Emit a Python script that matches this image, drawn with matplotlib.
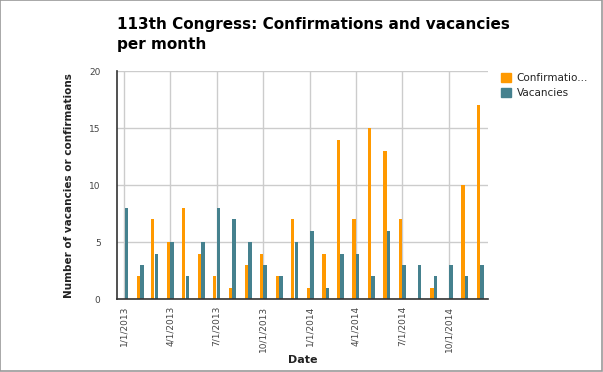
import datetime as dt
import matplotlib
matplotlib.use("Agg")
import matplotlib.pyplot as plt
import matplotlib.dates as mdates
from matplotlib.patches import Rectangle, Patch

# monthly data, 113th Congress
months = [dt.date(2013 + i // 12, i % 12 + 1, 1) for i in range(24)]
confirmations = [0, 2, 7, 5, 8, 4, 2, 1, 3, 4, 2, 7,
                 1, 4, 14, 7, 15, 13, 7, 0, 1, 0, 10, 17]
vacancies = [8, 3, 4, 5, 2, 5, 8, 7, 5, 3, 2, 5,
             6, 1, 4, 4, 2, 6, 3, 3, 2, 3, 2, 3]
tick_dates = [dt.date(2013, 1, 1), dt.date(2013, 4, 1), dt.date(2013, 7, 1),
              dt.date(2013, 10, 1), dt.date(2014, 1, 1), dt.date(2014, 4, 1),
              dt.date(2014, 7, 1), dt.date(2014, 10, 1)]

orange = "#ff9900"
teal = "#45818e"

fig = plt.figure(figsize=(6.03, 3.72), dpi=100)
ax = fig.add_axes([0.1945, 0.196, 0.6143, 0.6123])

x = mdates.date2num(months)
w = 6.5
ax.bar(x - 3.6, confirmations, width=w, color=orange, zorder=3)
ax.bar(x + 3.6, vacancies, width=w, color=teal, zorder=3)

ax.set_xlim(mdates.date2num(dt.date(2012, 12, 18)), mdates.date2num(dt.date(2014, 12, 16)))
ax.set_ylim(0, 20)
ax.set_yticks([0, 5, 10, 15, 20])
ax.set_xticks(mdates.date2num(tick_dates))
ax.set_xticklabels([f"{d.month}/{d.day}/{d.year}" for d in tick_dates], rotation=90)
ax.tick_params(length=0, labelsize=6.5, colors="#444444")
ax.tick_params(axis="y", pad=12)
ax.tick_params(axis="x", pad=5)

ax.grid(True, color="#cccccc", linewidth=1, zorder=0)
for s in ["top", "right"]:
    ax.spines[s].set_visible(False)
for s in ["left", "bottom"]:
    ax.spines[s].set_color("#333333")
    ax.spines[s].set_linewidth(1.2)
    ax.spines[s].set_zorder(4)

ax.set_xlabel("Date", fontsize=8, fontweight="bold", color="#222222", labelpad=2)
ax.set_ylabel("Number of vacancies or confirmations", fontsize=7.5, fontweight="bold",
              color="#222222", labelpad=11)

fig.text(0.1945, 0.955, "113th Congress: Confirmations and vacancies\nper month",
         fontsize=11, fontweight="bold", color="#000000", va="top", ha="left",
         linespacing=1.4)

handles = [Patch(color=orange), Patch(color=teal)]
fig.legend(handles, ["Confirmatio...", "Vacancies"], loc="upper left",
           bbox_to_anchor=(0.815, 0.83), frameon=False, fontsize=7.5,
           handlelength=1.0, handleheight=1.0, handletextpad=0.5,
           labelspacing=0.5, labelcolor="#222222")

fig.patches.append(Rectangle((0, 0.003), 0.9985, 0.997, transform=fig.transFigure,
                             fill=False, edgecolor="#999999", linewidth=1.2))

fig.savefig("out.png", dpi=100)
